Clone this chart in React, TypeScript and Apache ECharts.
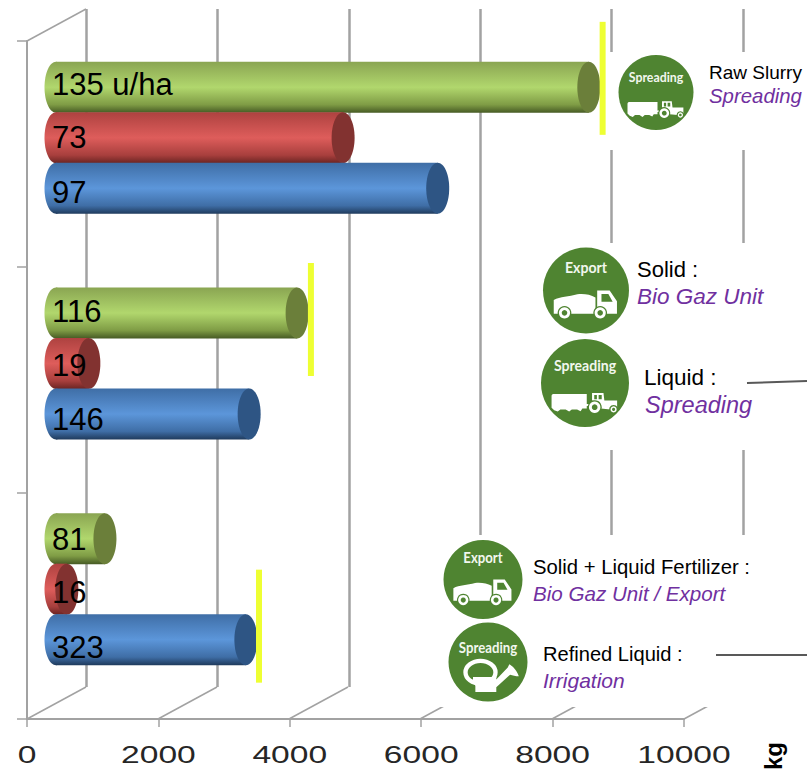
import React, { useEffect, useRef } from "react";
import * as echarts from "echarts";

const groups = ["Raw Slurry", "Solid / Liquid", "Fertilizer / Refined Liquid"];
const xTicks = [0, 2000, 4000, 6000, 8000, 10000];
const greenValues = [8110, 3670, 745];
const redValues = [4370, 500, 165];
const blueValues = [5810, 2940, 2890];
const greenLabels = ["135 u/ha", "116", "81"];
const redLabels = ["73", "19", "16"];
const blueLabels = ["97", "146", "323"];
const markerValues = [8320, 3880, 3090];

const W = 807;
const H = 773;
const GRID_LINE = "#a2a2a2";
const PURPLE = "#7030a0";
const ICON_GREEN = "#4f8431";
const SANS = '"Liberation Sans", Arial, sans-serif';

// nudges of the value labels relative to each bar's centre (per category)
const nudges: Record<string, number[]> = {
  green: [-3, -1, 1],
  red: [0, 2, 3.5],
  blue: [4, 5, 8],
};
const markerOffsets = [-59.5, -44, 37];

echarts.graphic.registerShape(
  "truckBody",
  echarts.graphic.extendPath(
    "M-75 22 C-60 14 -40 15 -20 9 C-5 7 10 10 22 16 L22 46 L26 46 L26 0 L55 0 L72 25 L72 54 L-75 54 Z M36 8 L36 26 L62 26 L52 8 Z",
    {}
  )
);
echarts.graphic.registerShape(
  "tankTractor",
  echarts.graphic.extendPath(
    "M-76 30 C-76 26 -74 25 -70 25 L4 25 L4 58 L-6 58 L-10 64 L-18 60 L-30 60 L-36 65 L-44 60 L-56 60 L-62 65 L-70 62 L-76 56 Z M4 48 L14 48 L14 52 L4 52 Z M16 23 L42 23 L44 40 L73 40 L73 56 L58 60 L36 58 L30 42 L16 40 Z M21 27 L21 37 L27 37 L27 27 Z M31 27 L31 37 L38 37 L38 27 Z",
    {}
  )
);
echarts.graphic.registerShape(
  "wateringCan",
  echarts.graphic.extendPath(
    "M-38 38 L21 38 L21 44 L50 14 L54 6 C62 10 72 20 78 36 C70 36 62 34 56 32 L21 64 L21 76 L-32 76 L-32 60 L-38 52 Z",
    {}
  )
);

const barLayer = (
  name: string,
  values: number[],
  labels: string[],
  slot: number,
  nudge: number[],
  stops: string[],
  capColor: string
) => ({
  name,
  type: "custom",
  coordinateSystem: "cartesian2d",
  xAxisIndex: 2,
  yAxisIndex: 2,
  z: 4,
  encode: { x: 0, y: 1 },
  data: values.map((v, i) => [v, i]),
  renderItem: (params: any, api: any) => {
    const [xEnd, yMid] = api.coord([api.value(0), api.value(1)]);
    const [x0] = api.coord([0, api.value(1)]);
    const band = api.size([0, 1])[1];
    const h = band * 0.226;
    const cy = yMid + slot * band * 0.2238;
    const rx = 11.5;
    const gradient = () =>
      new echarts.graphic.LinearGradient(0, 0, 0, 1, [
        { offset: 0, color: stops[0] },
        { offset: 0.5, color: stops[1] },
        { offset: 0.84, color: stops[2] },
        { offset: 1, color: stops[3] },
      ]);
    return {
      type: "group",
      children: [
        {
          type: "ellipse",
          shape: { cx: x0, cy, rx, ry: h / 2 },
          style: { fill: gradient() },
        },
        {
          type: "rect",
          shape: { x: x0, y: cy - h / 2, width: xEnd - x0, height: h },
          style: { fill: gradient() },
        },
        {
          type: "ellipse",
          shape: { cx: xEnd, cy, rx, ry: h / 2 },
          style: { fill: capColor },
        },
        {
          type: "text",
          x: x0 - 4,
          y: cy + nudge[params.dataIndex],
          style: {
            text: labels[params.dataIndex],
            fill: "#000",
            font: `31px ${SANS}`,
            align: "left",
            verticalAlign: "middle",
          },
        },
      ],
    };
  },
});

const markerLayer = {
  name: "Marker",
  type: "custom",
  coordinateSystem: "cartesian2d",
  xAxisIndex: 2,
  yAxisIndex: 2,
  z: 5,
  encode: { x: 0, y: 1 },
  data: markerValues.map((v, i) => [v, i]),
  renderItem: (params: any, api: any) => {
    const [x, y] = api.coord([api.value(0), api.value(1)]);
    const cy = y + markerOffsets[params.dataIndex];
    return {
      type: "rect",
      shape: { x: x - 3, y: cy - 56.5, width: 6, height: 113 },
      style: { fill: "#eeff33" },
    };
  },
};

const xLabelLayer = {
  name: "X labels",
  type: "custom",
  coordinateSystem: "cartesian2d",
  xAxisIndex: 0,
  yAxisIndex: 0,
  z: 4,
  encode: { x: 0, y: 1 },
  data: xTicks.map((t) => [t, 0]),
  renderItem: (params: any, api: any) => {
    const [x] = api.coord([api.value(0), 0]);
    return {
      type: "text",
      x,
      y: params.coordSys.y + params.coordSys.height + 36,
      scaleX: 1.4,
      style: {
        text: String(api.value(0)),
        fill: "#262626",
        font: `24px ${SANS}`,
        align: "center",
        verticalAlign: "middle",
      },
    };
  },
};

const label = (text: string, x: number, y: number, size: number, italic = false) => ({
  type: "text",
  x,
  y,
  z: 10,
  style: {
    text,
    fill: italic ? PURPLE : "#000",
    font: `${italic ? "italic " : ""}${size}px ${SANS}`,
    align: "left",
    verticalAlign: "middle",
  },
});

const wheel = (cx: number, cy: number, r: number, s: number, ox: number, oy: number) => [
  { type: "circle", z: 11, shape: { cx: ox + cx * s, cy: oy + cy * s, r: (r + 3) * s }, style: { fill: ICON_GREEN } },
  { type: "circle", z: 12, shape: { cx: ox + cx * s, cy: oy + cy * s, r: r * s }, style: { fill: "#fff" } },
  { type: "circle", z: 13, shape: { cx: ox + cx * s, cy: oy + cy * s, r: r * 0.5 * s }, style: { fill: ICON_GREEN } },
];

const icon = (kind: "export" | "spread" | "can", cx: number, cy: number, r: number, textDy: number) => {
  const s = r / 100;
  const word = kind === "export" ? "Export" : "Spreading";
  const parts: any[] = [
    { type: "circle", z: 10, shape: { cx, cy, r }, style: { fill: ICON_GREEN } },
    {
      type: "text",
      x: cx,
      y: cy + textDy * s,
      z: 11,
      scaleX: 0.88,
      style: {
        text: word,
        fill: "#f2f7ee",
        font: `bold ${Math.round(r * 0.37)}px Lato, sans-serif`,
        align: "center",
        verticalAlign: "middle",
      },
    },
  ];
  const common = { x: cx, y: cy, scaleX: s, scaleY: s, z: 11, style: { fill: "#fff" } };
  if (kind === "export") {
    parts.push({ type: "truckBody", ...common });
    parts.push(...wheel(-50, 52, 13, s, cx, cy), ...wheel(33, 52, 13, s, cx, cy));
  } else if (kind === "spread") {
    parts.push({ type: "tankTractor", ...common });
    parts.push(...wheel(22, 55, 13, s, cx, cy), ...wheel(65, 60, 7, s, cx, cy));
  } else {
    parts.push({
      type: "ellipse",
      z: 11,
      shape: { cx: cx - 19 * s, cy: cy + 26 * s, rx: 38 * s, ry: 29 * s },
      style: { fill: "none", stroke: "#fff", lineWidth: 11 * s },
    });
    parts.push({ type: "wateringCan", ...common, z: 12 });
  }
  return parts;
};

const patch = (x: number, y: number, width: number, height: number) => ({
  type: "rect",
  z: 3,
  shape: { x, y, width, height },
  style: { fill: "#fff" },
});

const wallLine = (x1: number, y1: number, x2: number, y2: number, color = GRID_LINE, lineWidth = 1.5, z = 2) => ({
  type: "line",
  z,
  shape: { x1, y1, x2, y2 },
  style: { stroke: color, lineWidth },
});

const floorX = [27, 158, 289, 420, 552, 684];

const graphicElements: any[] = [
  ...floorX.map((x) => wallLine(x, 719, x + 59, 687)),
  wallLine(27, 41, 86, 9),
  patch(607, 52, 200, 98),
  patch(530, 243, 277, 207),
  patch(430, 535, 377, 172),
  wallLine(747, 383, 807, 381, "#595959", 2, 9),
  wallLine(716, 655, 807, 655, "#595959", 2, 9),
  ...icon("spread", 656, 92.5, 37.5, -43),
  ...icon("export", 586, 290.5, 43, -55),
  ...icon("spread", 585, 383, 44, -42),
  ...icon("export", 483, 579.5, 39.5, -56),
  ...icon("can", 488, 662, 39.5, -37),
  label("Raw Slurry", 709, 72, 19),
  label("Spreading", 709, 96, 20.4, true),
  label("Solid :", 637, 269, 22),
  label("Bio Gaz Unit", 637, 296, 22.5, true),
  label("Liquid :", 644, 377, 22.5),
  label("Spreading", 645, 405, 23.5, true),
  label("Solid + Liquid Fertilizer :", 533, 567, 20.3),
  label("Bio Gaz Unit / Export", 533, 593, 20.6, true),
  label("Refined Liquid :", 543, 654, 20.1),
  label("Irrigation", 543, 680, 21, true),
  {
    type: "text",
    x: 773,
    y: 756,
    z: 10,
    rotation: Math.PI / 2,
    style: {
      text: "kg",
      fill: "#000",
      font: `bold 24px ${SANS}`,
      align: "center",
      verticalAlign: "middle",
    },
  },
];

const hiddenAxis = { show: false };

const option: any = {
  animation: false,
  backgroundColor: "#fff",
  grid: [
    { left: 27, right: W - 684, top: 41, bottom: H - 719 },
    { left: 86, right: W - 743, top: 9, bottom: H - 687 },
    { left: 56, right: W - 713, top: 25, bottom: H - 702 },
  ],
  xAxis: [
    {
      gridIndex: 0,
      type: "value",
      min: 0,
      max: 10000,
      interval: 2000,
      axisLine: { show: true, lineStyle: { color: GRID_LINE, width: 2 } },
      axisTick: { show: true, length: 8, lineStyle: { color: GRID_LINE, width: 1.5 } },
      axisLabel: { show: false },
      splitLine: { show: false },
    },
    {
      gridIndex: 1,
      type: "value",
      min: 0,
      max: 10000,
      interval: 2000,
      axisLine: { show: false },
      axisTick: { show: false },
      axisLabel: { show: false },
      splitLine: { show: true, lineStyle: { color: GRID_LINE, width: 2.5 } },
    },
    { gridIndex: 2, type: "value", min: 0, max: 10000, interval: 2000, ...hiddenAxis },
  ],
  yAxis: [
    {
      gridIndex: 0,
      type: "category",
      inverse: true,
      data: groups,
      axisLine: { show: true, lineStyle: { color: GRID_LINE, width: 2 } },
      axisTick: { show: true, length: 10, lineStyle: { color: GRID_LINE, width: 1.5 } },
      axisLabel: { show: false },
      splitLine: { show: false },
    },
    { gridIndex: 1, type: "category", inverse: true, data: groups, ...hiddenAxis },
    { gridIndex: 2, type: "category", inverse: true, data: groups, ...hiddenAxis },
  ],
  graphic: { elements: graphicElements },
  series: [
    barLayer("Green", greenValues, greenLabels, -1, nudges.green, ["#8aa552", "#b1d76d", "#7f9c45", "#465a24"], "#6b7f3a"),
    barLayer("Red", redValues, redLabels, 0, nudges.red, ["#ae4240", "#de5d5b", "#a83f3d", "#6a2422"], "#823230"),
    barLayer("Blue", blueValues, blueLabels, 1, nudges.blue, ["#3f6ea6", "#5c96da", "#3f6ea6", "#1f3a5c"], "#2e5584"),
    markerLayer,
    xLabelLayer,
  ],
};

export default function App() {
  const ref = useRef<HTMLDivElement>(null);
  useEffect(() => {
    const chart = echarts.init(ref.current!, null, { renderer: "svg" });
    chart.setOption(option);
    return () => chart.dispose();
  }, []);
  return (
    <div
      ref={ref}
      style={{ position: "fixed", left: 0, top: 0, width: W, height: H, background: "#fff" }}
    />
  );
}
